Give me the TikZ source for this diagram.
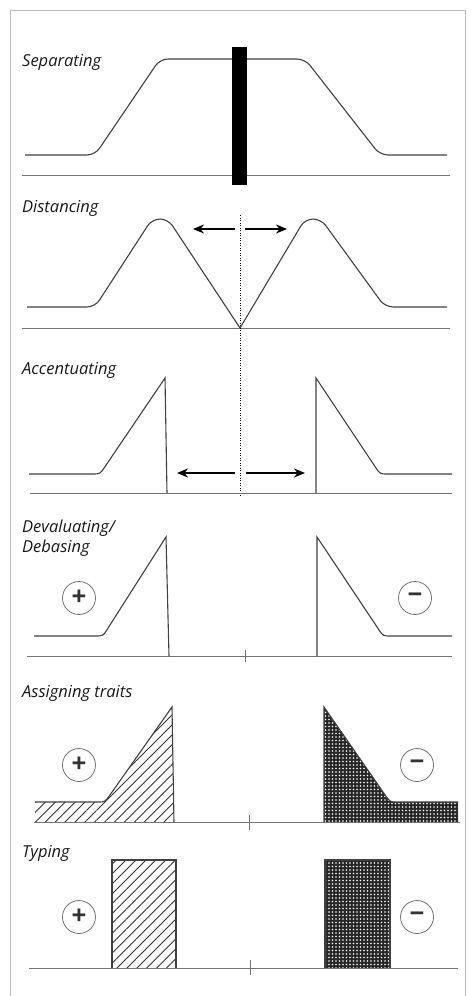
\documentclass[tikz,border=0pt]{standalone}
\usepackage{fontspec}
\setmainfont{Open Sans}
\usetikzlibrary{arrows.meta,patterns.meta}

\begin{document}
\begin{tikzpicture}[
        x=1pt, y=-1pt,
        title/.style={anchor=west, inner sep=0pt, align=left,
            font=\fontsize{16.5}{20}\selectfont\itshape, text=black!90},
        curve/.style={draw=black!75, line width=1.1pt, rounded corners=8pt},
        edge/.style={draw=black!75, line width=1.1pt},
        axis/.style={draw=black!55, line width=1pt},
        sign/.style={draw=black!55, circle, line width=0.8pt, minimum size=33pt,
            inner sep=0pt, font=\fontsize{26}{26}\selectfont\bfseries, text=black!80},
        push/.style={-{Stealth[length=11pt,width=9pt]}, line width=2.2pt},
        hatch/.style={pattern={Lines[angle=45,distance=7pt,line width=0.9pt]},
            pattern color=black!80},
        mesh/.style={pattern={Dots[distance=3.5pt,radius=0.9pt]}, pattern color=white}
    ]
        \useasboundingbox (0,0) rectangle (473,996);
        \draw[black!25, line width=1pt] (10,996) -- (10,10) -- (465,10) -- (465,996);

        % Separating
        \node[title] (sepTitle) at (22,62) {Separating};
        \draw[axis] (22,175) -- (450,175);
        \draw[curve] (25,155) -- (95,155) -- (160,59) -- (305,59) -- (380,155) -- (447,155);
        \fill (232,47) rectangle (247,185);

        % Distancing
        \node[title] (disTitle) at (22,208) {Distancing};
        \draw[axis] (22,328) -- (450,328);
        \draw[curve] (27,307) -- (95,307) -- (152,219) -- (168,219) -- (240,328);
        \draw[curve] (240,328) -- (305,219) -- (321,219) -- (385,307) -- (447,307);
        \draw[line width=0.6pt, dash pattern=on 1pt off 1.5pt] (240,215) -- (240,497);
        \coordinate (disMidL) at (235,229);
        \coordinate (disEndL) at (193,229);
        \coordinate (disMidR) at (245,229);
        \coordinate (disEndR) at (287,229);
        \draw[push] (disMidL) -- (disEndL);
        \draw[push] (disMidR) -- (disEndR);

        % Accentuating
        \node[title] (accTitle) at (22,370) {Accentuating};
        \draw[axis] (30,493) -- (452,493);
        \draw[edge] (29,474) -- (92,474) .. controls (100,474) .. (104.5,467.4)
            -- (165,378) -- (167,493);
        \draw[edge] (316,493) -- (316,378) -- (375.6,467.4)
            .. controls (380,474) .. (388,474) -- (452,474);
        \coordinate (accMidL) at (235,473);
        \coordinate (accEndL) at (177,473);
        \coordinate (accMidR) at (246,473);
        \coordinate (accEndR) at (305,473);
        \draw[push] (accMidL) -- (accEndL);
        \draw[push] (accMidR) -- (accEndR);

        % Devaluating / Debasing
        \node[title] (devTitle) at (22,538) {Devaluating/\\Debasing};
        \draw[axis] (27,656) -- (452,656);
        \draw[axis] (245,650) -- (245,662);
        \draw[edge] (34,636) -- (95,636) .. controls (103,636) .. (107.3,629.2)
            -- (166,537) -- (169,656);
        \draw[edge] (317,656) -- (317,537) -- (378.6,629.3)
            .. controls (383,636) .. (391,636) -- (452,636);
        \node[sign] (devPlus) at (79,598) {+};
        \node[sign] (devMinus) at (415,598) {−};

        % Assigning traits
        \node[title] (assTitle) at (22,693) {Assigning traits};
        \fill[hatch] (35,822) -- (35,802) -- (97,802) .. controls (105,802) .. (109.6,795.5)
            -- (172,707) -- (174,822) -- cycle;
        \fill[black!85] (324,822) -- (324,707) -- (385.4,795.4)
            .. controls (390,802) .. (398,802) -- (458,802) -- (458,822) -- cycle;
        \fill[mesh] (324,822) -- (324,707) -- (385.4,795.4)
            .. controls (390,802) .. (398,802) -- (458,802) -- (458,822) -- cycle;
        \draw[edge] (35,802) -- (97,802) .. controls (105,802) .. (109.6,795.5)
            -- (172,707) -- (174,822);
        \draw[edge] (324,822) -- (324,707) -- (385.4,795.4)
            .. controls (390,802) .. (398,802) -- (458,802);
        \draw[axis] (34,822) -- (460,822);
        \draw[axis] (249,815) -- (249,830);
        \node[sign] (assPlus) at (79,765) {+};
        \node[sign] (assMinus) at (417,765) {−};

        % Typing
        \node[title] (typTitle) at (22,853) {Typing};
        \fill[hatch] (112,860) rectangle (176,968);
        \draw[edge] (112,968) -- (112,860) -- (176,860) -- (176,968);
        \fill[black!85] (325,860) rectangle (390,968);
        \fill[mesh] (325,860) rectangle (390,968);
        \draw[edge] (325,968) -- (325,860) -- (390,860) -- (390,968);
        \draw[axis] (29,968) -- (458,968);
        \draw[axis] (250,960) -- (250,975);
        \node[sign] (typPlus) at (79,917) {+};
        \node[sign] (typMinus) at (417,917) {−};
    \end{tikzpicture}
\end{document}
